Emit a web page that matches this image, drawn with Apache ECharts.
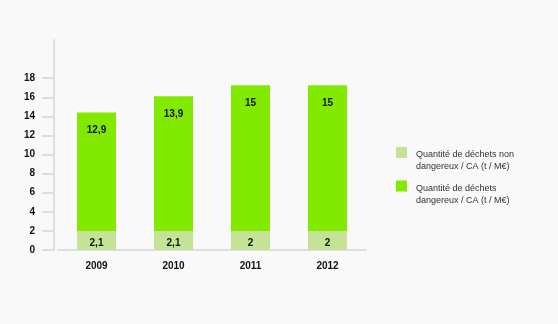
<!DOCTYPE html>
<html>
<head>
<meta charset="utf-8">
<script src="https://cdn.jsdelivr.net/npm/echarts@6/dist/echarts.min.js"></script>
<style>
html,body{margin:0;padding:0;background:#f9f9f9;}
#c{width:558px;height:324px;}
</style>
</head>
<body>
<div id="c"></div>
<script>
var categories = ['2009', '2010', '2011', '2012'];
var seriesNames = ['Quantité de déchets non dangereux / CA (t / M€)', 'Quantité de déchets dangereux / CA (t / M€)'];
var legendLine1 = ['Quantité de déchets non', 'Quantité de déchets'];
var legendLine2 = ['dangereux / CA (t / M€)', 'dangereux / CA (t / M€)'];
// bar heights
var nonDangerous = [2.0, 2.0, 2.0, 2.0];
var dangerous = [12.4, 14.1, 15.25, 15.25];
// printed value labels
var nonDangerousLabels = ['2,1', '2,1', '2', '2'];
var dangerousLabels = ['12,9', '13,9', '15', '15'];
var yTicks = [0, 2, 4, 6, 8, 10, 12, 14, 16, 18];

var chart = echarts.init(document.getElementById('c'), null, {renderer: 'canvas'});
var font = 'Liberation Sans';
chart.setOption({
  backgroundColor: '#f9f9f9',
  animation: false,
  grid: {left: 58, top: 40, width: 308, bottom: 74, containLabel: false},
  legend: {
    orient: 'vertical',
    left: 396,
    top: 132,
    padding: 0,
    itemWidth: 11,
    itemHeight: 11,
    itemGap: -6,
    icon: 'rect',
    data: seriesNames,
    formatter: function (n) {
      var i = seriesNames.indexOf(n);
      return '{s| }\n{t|' + legendLine1[i] + '}\n{t|' + legendLine2[i] + '}';
    },
    textStyle: {
      fontFamily: font, fontSize: 9, color: '#333',
      rich: {
        s: {height: 17, lineHeight: 17, fontSize: 9},
        t: {fontFamily: font, fontSize: 9, color: '#333', lineHeight: 12, padding: [0, 0, 0, 4]}
      }
    }
  },
  xAxis: {
    type: 'category',
    data: categories,
    axisLine: {lineStyle: {color: '#dedede', width: 2}},
    axisTick: {show: false},
    axisLabel: {margin: 11, fontFamily: font, fontWeight: 'bold', fontSize: 10, color: '#111'}
  },
  yAxis: {
    type: 'value',
    min: 0, max: 22, interval: 2,
    offset: 4,
    splitLine: {show: false},
    axisLine: {show: true, lineStyle: {color: '#dedede', width: 2}},
    axisTick: {show: true, length: 12, lineStyle: {color: '#dedede', width: 2}, customValues: yTicks},
    axisLabel: {margin: 19, fontFamily: font, fontWeight: 'bold', fontSize: 10, color: '#111', customValues: yTicks}
  },
  series: [
    {
      name: seriesNames[0], type: 'bar', stack: 'a', barWidth: 39,
      data: nonDangerous,
      itemStyle: {color: '#c5e397'},
      label: {show: true, position: 'insideBottom', distance: 2, fontFamily: font, fontWeight: 'bold', fontSize: 10, color: '#111',
        formatter: function (p) { return nonDangerousLabels[p.dataIndex]; }}
    },
    {
      name: seriesNames[1], type: 'bar', stack: 'a', barWidth: 39,
      data: dangerous,
      itemStyle: {color: '#82ea00'},
      label: {show: true, position: 'insideTop', distance: 13, fontFamily: font, fontWeight: 'bold', fontSize: 10, color: '#111',
        formatter: function (p) { return dangerousLabels[p.dataIndex]; }}
    }
  ]
});
</script>
</body>
</html>
